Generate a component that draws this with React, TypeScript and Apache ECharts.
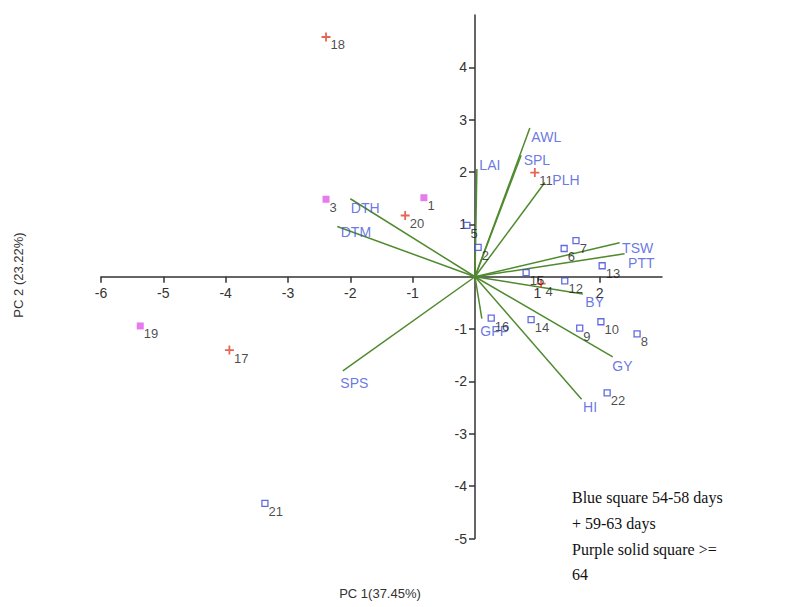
import React, { useEffect, useRef } from "react";
import * as echarts from "echarts";

// Genotype scores (PC1, PC2) and maturity group
const genoLabels = ["1","2","3","4","5","6","7","8","9","10","11","12","13","14","15","16","17","18","19","20","21","22"];
const genoPC1 = [-0.82, 0.05, -2.39, 1.06, -0.13, 1.43, 1.62, 2.60, 1.68, 2.02, 0.96, 1.44, 2.04, 0.90, 0.82, 0.26, -3.94, -2.39, -5.37, -1.12, -3.37, 2.12];
const genoPC2 = [1.51, 0.56, 1.48, -0.13, 0.98, 0.54, 0.69, -1.09, -0.98, -0.86, 1.99, -0.08, 0.21, -0.82, 0.08, -0.79, -1.40, 4.58, -0.94, 1.17, -4.33, -2.22];
// group: "b" = blue square 54-58 days, "r" = + 59-63 days, "p" = purple solid square >= 64
const genoGroup = ["p","b","p","r","b","b","b","b","b","b","r","b","b","b","b","b","r","r","p","r","b","b"];

// Trait vectors (loadings)
const traitNames = ["AWL", "SPL", "LAI", "PLH", "TSW", "PTT", "BY", "GY", "HI", "GFP", "SPS", "DTH", "DTM"];
const traitPC1 = [0.88, 0.74, 0.03, 1.12, 2.32, 2.40, 1.73, 2.21, 1.71, 0.11, -2.12, -2.00, -2.21];
const traitPC2 = [2.84, 2.32, 2.06, 1.80, 0.65, 0.44, -0.33, -1.53, -2.34, -0.80, -1.80, 1.49, 0.96];

const xMin = -6, xMax = 3, yMin = -5, yMax = 5;
const xTickValues = [-6, -5, -4, -3, -2, -1, 1, 2];
const yTickValues = [-5, -4, -3, -2, -1, 1, 2, 3, 4];

const traitLabelOffsets: Record<string, number[]> = {
  AWL: [0, 9], SPL: [1, 5], LAI: [1, -4], PLH: [6, -3], TSW: [1, 5], PTT: [2, 9],
  BY: [1, 8], GY: [-2, 9], HI: [0, 8], GFP: [-3, 12], SPS: [-4, 12], DTH: [-1, 9], DTM: [2, 6],
};

const SANS = "'Liberation Sans', Arial, sans-serif";

const GRID = { left: 101, right: 145, top: 15, bottom: 68.5 };
const W = 807, H = 607;

export default function App() {
  const ref = useRef<HTMLDivElement>(null);
  useEffect(() => {
    if (!ref.current) return;
    const chart = echarts.init(ref.current, undefined, { renderer: "svg" });

    const gw = W - GRID.left - GRID.right;
    const gh = H - GRID.top - GRID.bottom;
    const yAxisOffset = -((0 - xMin) / (xMax - xMin)) * gw;
    const xAxisOffset = -((0 - yMin) / (yMax - yMin)) * gh;

    const groupData = (g: string) =>
      genoLabels
        .map((n, i) => ({ name: n, value: [genoPC1[i], genoPC2[i]], g: genoGroup[i] }))
        .filter((d) => d.g === g)
        .map((d) => ({ name: d.name, value: d.value }));

    const pointLabel = {
      show: true,
      position: "right",
      distance: 0,
      offset: [0, 8],
      formatter: "{b}",
      color: "#1a1a1a",
      fontSize: 13,
      fontFamily: SANS,
    };

    const option = {
      animation: false,
      backgroundColor: "#ffffff",
      grid: GRID,
      xAxis: {
        type: "value",
        min: xMin,
        max: xMax,
        position: "bottom",
        offset: xAxisOffset,
        splitLine: { show: false },
        axisLine: { onZero: false, lineStyle: { color: "#333", width: 1.5 } },
        axisTick: { customValues: xTickValues, length: 6, lineStyle: { color: "#333", width: 1.5 } },
        axisLabel: { customValues: xTickValues, margin: 9, color: "#333", fontSize: 14, fontFamily: SANS },
      },
      yAxis: {
        type: "value",
        min: yMin,
        max: yMax,
        position: "left",
        offset: yAxisOffset,
        splitLine: { show: false },
        axisLine: { onZero: false, lineStyle: { color: "#333", width: 1.5 } },
        axisTick: { customValues: yTickValues, length: 6, lineStyle: { color: "#333", width: 1.5 } },
        axisLabel: { customValues: yTickValues, margin: 8, color: "#333", fontSize: 14, fontFamily: SANS },
      },
      series: [
        {
          type: "lines",
          coordinateSystem: "cartesian2d",
          silent: true,
          lineStyle: { color: "#4f8a2e", width: 1.5, opacity: 1 },
          data: traitNames.map((n, i) => ({ name: n, coords: [[0, 0], [traitPC1[i], traitPC2[i]]] })),
          z: 2,
        },
        {
          type: "scatter",
          symbolSize: 1,
          itemStyle: { color: "rgba(0,0,0,0)" },
          data: traitNames.map((n, i) => ({
            name: n,
            value: [traitPC1[i], traitPC2[i]],
            label: { offset: traitLabelOffsets[n] },
          })),
          label: {
            show: true,
            position: "right",
            distance: 1,
            formatter: "{b}",
            color: "#4455dd",
            fontSize: 14,
            fontFamily: SANS,
          },
          z: 3,
        },
        {
          type: "scatter",
          symbol: "rect",
          symbolSize: 6,
          itemStyle: { color: "rgba(255,255,255,0.7)", borderColor: "#3a46d8", borderWidth: 1.3 },
          data: groupData("b"),
          label: pointLabel,
          z: 4,
        },
        {
          type: "scatter",
          symbol: "path://M-1,-5H1V-1H5V1H1V5H-1V1H-5V-1H-1Z",
          symbolSize: 9,
          itemStyle: { color: "#e0402a" },
          data: groupData("r"),
          label: pointLabel,
          z: 4,
        },
        {
          type: "scatter",
          symbol: "rect",
          symbolSize: 7,
          itemStyle: { color: "#e05ae8" },
          data: groupData("p"),
          label: pointLabel,
          z: 4,
        },
      ],
      graphic: [
        {
          type: "text",
          x: 380,
          y: 593,
          style: {
            text: "PC 1(37.45%)",
            fill: "#333",
            font: `13px ${SANS}`,
            align: "center",
            verticalAlign: "middle",
          },
        },
        {
          type: "text",
          x: 18,
          y: 275,
          rotation: Math.PI / 2,
          style: {
            text: "PC 2 (23.22%)",
            fill: "#333",
            font: `13px ${SANS}`,
            align: "center",
            verticalAlign: "middle",
          },
        },
        {
          type: "text",
          x: 572,
          y: 485,
          style: {
            text: "Blue square 54-58 days\n+ 59-63 days\nPurple solid square >=\n64",
            fill: "#111",
            font: "16px 'Liberation Serif', 'Times New Roman', serif",
            lineHeight: 25.7,
          },
        },
      ],
    };

    chart.setOption(option as any);
    return () => chart.dispose();
  }, []);

  return (
    <div
      ref={ref}
      style={{ position: "absolute", left: 0, top: 0, width: W, height: H }}
    />
  );
}
